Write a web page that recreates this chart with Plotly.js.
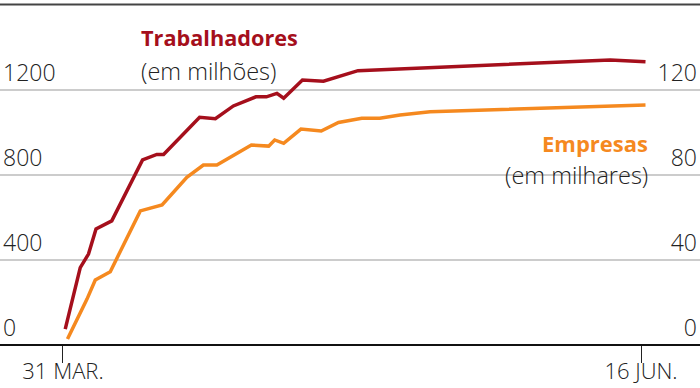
<!DOCTYPE html>
<html><head><meta charset="utf-8">
<script src="https://cdn.plot.ly/plotly-3.0.1.min.js"></script>
<style>html,body{margin:0;padding:0;background:#fff}</style>
</head><body><div id="chart" style="width:700px;height:388px"></div>
<script>
// Days since 31 March
const diasTrab = [0.3, 2.3, 3.4, 4.4, 6.5, 10.6, 12.5, 13.4, 18.2, 20.3, 22.7, 25.7, 27.1, 28.5, 29.4, 31.9, 34.7, 39.3, 72.9, 77.6];
const trabalhadores = [75, 364, 428, 546, 584, 871, 897, 897, 1072, 1065, 1125, 1168, 1168, 1184, 1161, 1247, 1241, 1291, 1341, 1333];
const diasEmp = [0.6, 3.2, 4.3, 6.3, 10.3, 13.2, 16.5, 18.7, 20.5, 25.1, 27.4, 28.2, 29.4, 31.7, 34.4, 36.7, 39.8, 42.2, 44.9, 48.9, 77.6];
const empresas = [2.8, 21.6, 30.6, 34.5, 63.1, 65.9, 78.9, 84.7, 84.7, 94.1, 93.6, 96.5, 94.9, 101.6, 100.7, 104.7, 106.7, 106.7, 108.2, 109.8, 112.9];
const ticksEsq = [0, 400, 800, 1200];
const ticksDir = [0, 40, 80, 120];
const datasTick = [0, 77];
const rotulosData = ['31 MAR.', '16 JUN.'];

const RED = '#a50f1c', ORANGE = '#f5891f', INK = '#222222', GRID = '#cccccc';
const FONT = '"Open Sans", Lato, sans-serif';
const H = 388, BASE = 345;
const py = p => (H - p) / H;

const traces = [
  {x: diasTrab, y: trabalhadores, type: 'scatter', mode: 'lines', yaxis: 'y',
   line: {color: RED, width: 3.5}, hoverinfo: 'skip'},
  {x: diasEmp, y: empresas, type: 'scatter', mode: 'lines', yaxis: 'y2',
   line: {color: ORANGE, width: 3.5}, hoverinfo: 'skip'}
];

const layout = {
  width: 700, height: H,
  margin: {l: 0, r: 0, t: 0, b: 0},
  paper_bgcolor: '#fff', plot_bgcolor: '#fff',
  showlegend: false,
  font: {family: FONT, color: INK, size: 22, weight: 300},
  xaxis: {range: [-8.39, 84.86], tickvals: datasTick, ticktext: rotulosData,
    anchor: 'free', position: py(BASE),
    ticks: 'outside', ticklen: 17, tickwidth: 1, tickcolor: INK,
    ticklabelstandoff: -10,
    showgrid: false, zeroline: false, showline: false,
    tickfont: {family: FONT, size: 22, color: INK, weight: 300}},
  yaxis: {range: [-43 * 400 / 85, 1623.5], tickvals: ticksEsq, ticktext: ticksEsq.map(String),
    ticklabelposition: 'inside', ticklabelshift: -17, ticklabelstandoff: 0,
    showgrid: true, gridcolor: GRID, gridwidth: 1.5,
    zeroline: true, zerolinecolor: '#111', zerolinewidth: 1.5,
    ticks: '', showline: false,
    tickfont: {family: FONT, size: 23, color: INK, weight: 300}},
  yaxis2: {range: [-43 * 40 / 85, 162.35], overlaying: 'y', side: 'right', tickvals: ticksDir,
    ticktext: ticksDir.map(String),
    ticklabelposition: 'inside', ticklabelshift: -17, ticklabelstandoff: 0,
    showgrid: false, zeroline: false, ticks: '', showline: false,
    tickfont: {family: FONT, size: 23, color: INK, weight: 300}},
  shapes: [
    {type: 'line', xref: 'paper', yref: 'paper', x0: 0, x1: 1, y0: py(4.5), y1: py(4.5),
     line: {color: '#444', width: 2}},
    {type: 'rect', xref: 'paper', yref: 'y', x0: 463 / 700, x1: 650 / 700, y0: 780, y1: 820,
     fillcolor: '#fff', line: {width: 0}, layer: 'between'}
  ],
  annotations: [
    {text: '<b>Trabalhadores</b>', xref: 'paper', yref: 'paper', x: 139 / 700, y: py(38),
     xanchor: 'left', yanchor: 'middle', showarrow: false,
     font: {family: FONT, size: 21.7, color: RED, weight: 700}},
    {text: '(em milhões)', xref: 'paper', yref: 'paper', x: 139 / 700, y: py(71),
     xanchor: 'left', yanchor: 'middle', showarrow: false,
     font: {family: FONT, size: 23.5, color: INK, weight: 300}},
    {text: '<b>Empresas</b>', xref: 'paper', yref: 'paper', x: 650 / 700, y: py(143),
     xanchor: 'right', yanchor: 'middle', showarrow: false,
     font: {family: FONT, size: 22, color: ORANGE, weight: 700}},
    {text: '(em milhares)', xref: 'paper', yref: 'paper', x: 650 / 700, y: py(175),
     xanchor: 'right', yanchor: 'middle', showarrow: false,
     font: {family: FONT, size: 23.5, color: INK, weight: 300}}
  ]
};

Plotly.newPlot('chart', traces, layout, {staticPlot: true, displayModeBar: false});
</script>
</body></html>
